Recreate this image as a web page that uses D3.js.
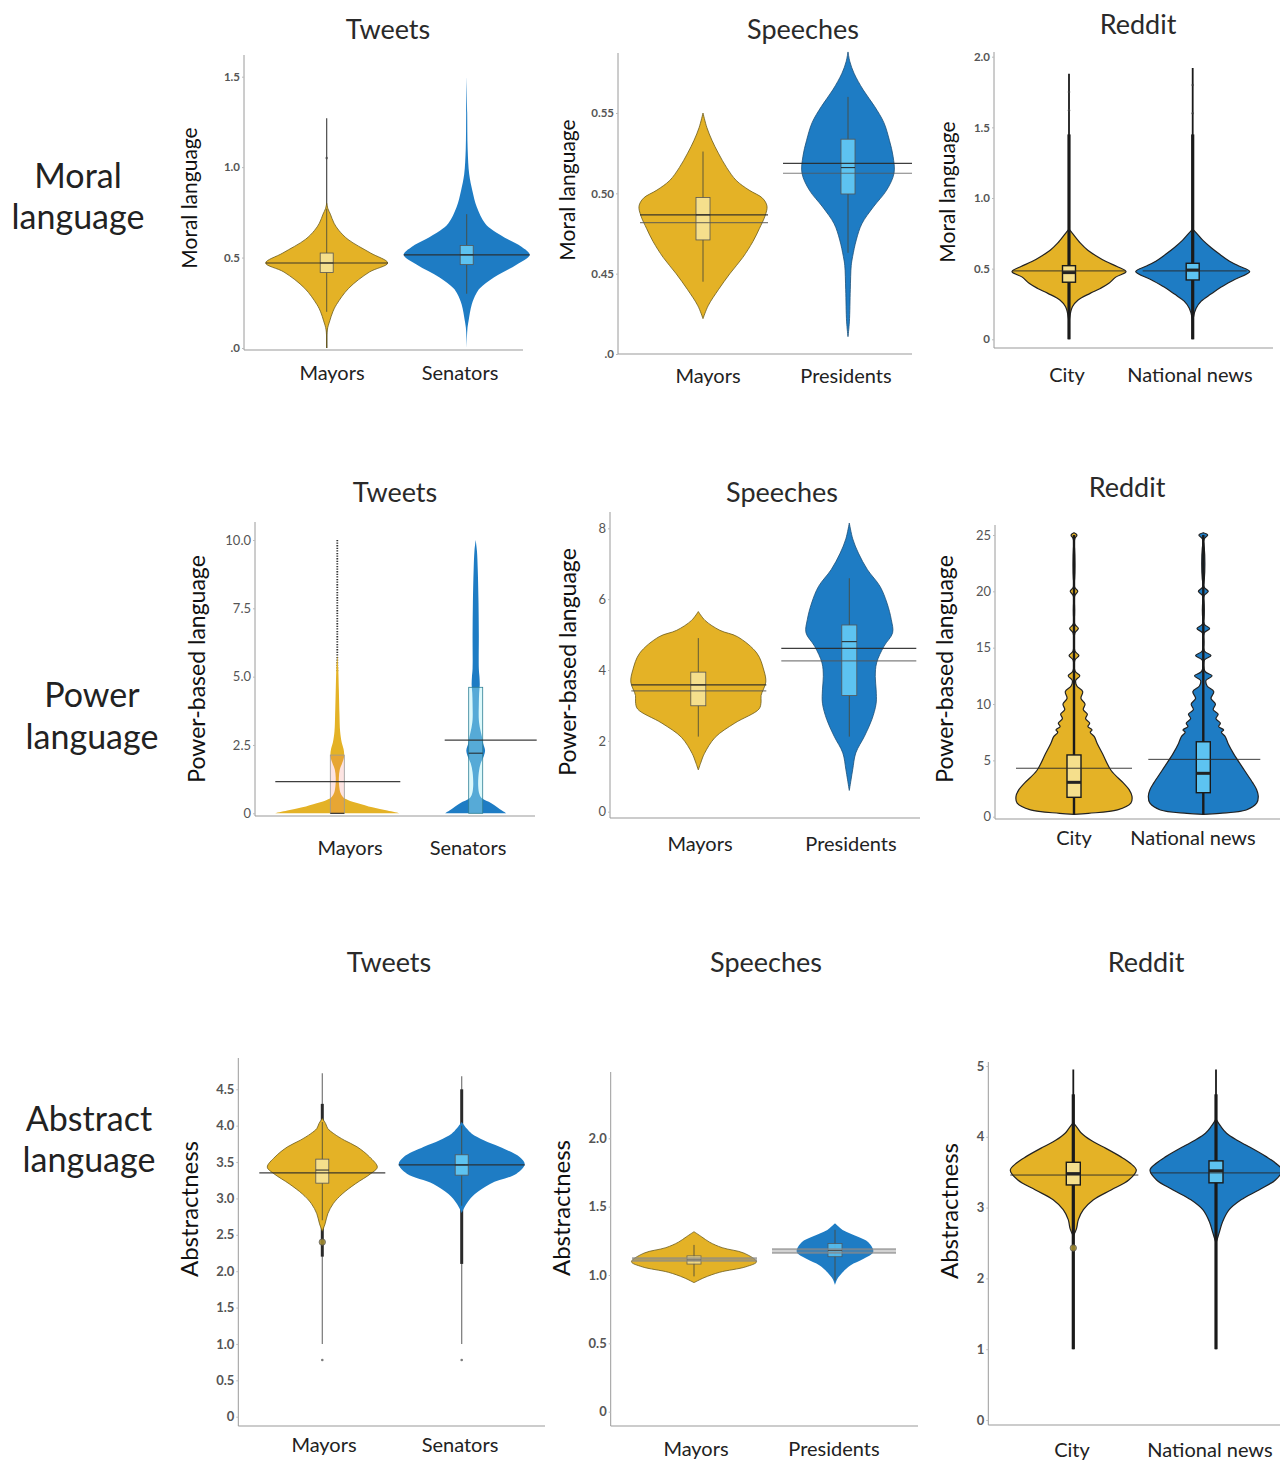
<!DOCTYPE html>
<html><head><meta charset="utf-8">
<script src="https://cdn.jsdelivr.net/npm/d3@7"></script>
<style>
body{margin:0;background:#fff;}
svg{display:block;font-family:Lato,"Open Sans",sans-serif;}
</style></head><body>
<svg id="chart" width="1280" height="1460"></svg>
<script>
// ---------------- DATA ----------------
const rowNames = [["Moral","language"],["Power","language"],["Abstract","language"]];
const sourceNames = ["Tweets","Speeches","Reddit"];
const groupNames = [["Mayors","Senators"],["Mayors","Presidents"],["City","National news"]];
const yAxisTitles = ["Moral language","Power-based language","Abstractness"];

const tickValues = [
  [0,0.5,1.0,1.5],[0.40,0.45,0.50,0.55],[0,0.5,1.0,1.5,2.0],
  [0,2.5,5,7.5,10],[0,2,4,6,8],[0,5,10,15,20,25],
  [0,0.5,1,1.5,2,2.5,3,3.5,4,4.5],[0,0.5,1,1.5,2],[0,1,2,3,4,5]
];
const tickLabels = [
  [".0","0.5","1.0","1.5"],[".0","0.45","0.50","0.55"],["0","0.5","1.0","1.5","2.0"],
  ["0","2.5","5.0","7.5","10.0"],["0","2","4","6","8"],["0","5","10","15","20","25"],
  ["0","0.5","1.0","1.5","2.0","2.5","3.0","3.5","4.0","4.5"],["0","0.5","1.0","1.5","2.0"],["0","1","2","3","4","5"]
];

// density profiles: [value, relative half-width]
const moralTweetsMayors = [[0,0],[0.1,0.01],[0.15,0.05],[0.2,0.1],[0.24,0.16],[0.33,0.36],[0.42,0.7],[0.47,1.0],[0.525,0.72],[0.6,0.35],[0.65,0.2],[0.69,0.12],[0.74,0.06],[0.77,0.02],[0.8,0]];
const moralTweetsSenators = [[0,0],[0.1,0.01],[0.15,0.03],[0.24,0.08],[0.3,0.15],[0.33,0.21],[0.39,0.43],[0.46,0.79],[0.515,1.0],[0.56,0.87],[0.6,0.66],[0.65,0.42],[0.69,0.29],[0.78,0.16],[0.87,0.09],[0.96,0.04],[1.1,0.015],[1.3,0.008],[1.5,0]];
const moralSpeechesMayors = [[0.422,0],[0.43,0.08],[0.44,0.24],[0.45,0.42],[0.46,0.62],[0.47,0.78],[0.478,0.88],[0.486,0.97],[0.492,1.0],[0.497,0.93],[0.502,0.72],[0.508,0.52],[0.516,0.37],[0.525,0.24],[0.533,0.14],[0.541,0.06],[0.55,0]];
const moralSpeechesPresidents = [[0.4108,0],[0.42,0.03],[0.44,0.05],[0.455,0.07],[0.4606,0.1],[0.471,0.18],[0.481,0.3],[0.4915,0.55],[0.502,0.84],[0.5125,1.0],[0.523,0.98],[0.533,0.9],[0.544,0.78],[0.554,0.58],[0.5644,0.33],[0.5748,0.13],[0.582,0.04],[0.588,0]];
const moralRedditCity = [[0.05,0],[0.15,0.01],[0.23,0.06],[0.278,0.16],[0.325,0.37],[0.36,0.55],[0.396,0.7],[0.44,0.82],[0.479,1.0],[0.514,0.85],[0.55,0.65],[0.585,0.5],[0.63,0.33],[0.68,0.2],[0.75,0.06],[0.78,0]];
const moralRedditNational = [[0.05,0],[0.15,0.01],[0.22,0.06],[0.27,0.15],[0.32,0.32],[0.37,0.5],[0.42,0.72],[0.479,1.0],[0.52,0.8],[0.56,0.62],[0.6,0.48],[0.65,0.32],[0.7,0.18],[0.75,0.07],[0.78,0]];
const powerTweetsMayors = [[0,1.0],[0.1,0.8],[0.22,0.56],[0.37,0.33],[0.49,0.17],[0.6,0.09],[0.75,0.05],[1.0,0.03],[1.3,0.025],[1.6,0.04],[1.85,0.08],[2.1,0.11],[2.35,0.1],[2.6,0.07],[3.0,0.045],[3.6,0.035],[4.5,0.025],[5.3,0.015],[5.8,0]];
const powerTweetsSenators = [[0,0.49],[0.1,0.42],[0.37,0.25],[0.55,0.1],[0.7,0.06],[1.0,0.04],[1.5,0.05],[1.83,0.08],[2.1,0.13],[2.3,0.15],[2.55,0.12],[2.8,0.1],[3.1,0.07],[3.42,0.05],[4.0,0.05],[4.4,0.055],[4.7,0.065],[5.0,0.06],[5.3,0.05],[6.5,0.05],[7.7,0.045],[8.9,0.033],[9.6,0.02],[10,0]];
const powerSpeechesMayors = [[1.18,0],[1.4,0.04],[1.64,0.09],[2.1,0.25],[2.5,0.54],[2.9,0.9],[3.1,0.93],[3.28,0.93],[3.66,1.0],[4.0,0.97],[4.47,0.87],[4.94,0.58],[5.12,0.32],[5.4,0.1],[5.65,0]];
const powerSpeechesPresidents = [[0.6,0],[0.9,0.04],[1.2,0.08],[1.66,0.15],[2.13,0.35],[2.6,0.52],[3.06,0.62],[3.44,0.62],[3.82,0.6],[4.2,0.63],[4.67,0.8],[5.05,1.0],[5.42,0.97],[5.89,0.87],[6.36,0.71],[6.83,0.42],[7.3,0.21],[7.7,0.08],[8.15,0]];
const powerRedditCity = [[0.2,0],[0.3,0.25],[0.6,0.75],[1.2,0.98],[1.8,1.0],[2.4,0.95],[3.0,0.85],[4.1,0.64],[5.6,0.49],[6.5,0.4],[7.1,0.35],[7.5,0.28],[7.7,0.31],[8.0,0.24],[8.3,0.27],[8.7,0.2],[9.1,0.23],[9.5,0.16],[10,0.19],[10.5,0.12],[11.1,0.15],[11.6,0.05],[12.1,0.03],[12.5,0.1],[12.9,0.02],[13.9,0.015],[14.3,0.085],[14.7,0.015],[16.3,0.015],[16.7,0.075],[17.1,0.012],[19.6,0.012],[20,0.065],[20.4,0.01],[24.6,0.01],[25,0.05],[25.2,0]];
const powerRedditNational = [[0.2,0],[0.3,0.3],[0.6,0.78],[1.2,0.97],[1.8,1.0],[2.4,0.97],[3.0,0.9],[4.1,0.75],[5.6,0.55],[6.5,0.45],[7.1,0.4],[7.5,0.33],[7.7,0.37],[8.0,0.28],[8.3,0.31],[8.7,0.23],[9.1,0.27],[9.5,0.18],[10,0.22],[10.5,0.14],[11.1,0.19],[11.6,0.07],[12.1,0.05],[12.5,0.16],[12.9,0.03],[13.9,0.02],[14.3,0.14],[14.7,0.02],[16.3,0.015],[16.7,0.115],[17.1,0.015],[19.6,0.012],[20,0.09],[20.4,0.01],[24.6,0.01],[25,0.08],[25.2,0]];
const absTweetsMayors = [[2.55,0],[2.65,0.05],[2.79,0.1],[2.93,0.2],[3.06,0.36],[3.2,0.6],[3.34,0.88],[3.43,1.0],[3.57,0.86],[3.71,0.63],[3.8,0.4],[3.89,0.21],[3.96,0.1],[4.03,0.06],[4.1,0]];
const absTweetsSenators = [[2.8,0],[2.93,0.08],[3.06,0.21],[3.2,0.45],[3.34,0.87],[3.47,1.0],[3.57,0.92],[3.71,0.6],[3.8,0.35],[3.89,0.16],[3.96,0.08],[4.05,0]];
const absSpeechesMayors = [[0.944,0],[0.98,0.16],[1.02,0.41],[1.06,0.83],[1.097,1.0],[1.16,0.8],[1.2,0.45],[1.24,0.25],[1.28,0.12],[1.317,0]];
const absSpeechesPresidents = [[0.927,0],[0.97,0.06],[1.02,0.2],[1.07,0.4],[1.12,0.76],[1.17,1.0],[1.24,0.87],[1.28,0.6],[1.33,0.2],[1.378,0]];
const absRedditCity = [[2.6,0],[2.7,0.05],[2.83,0.08],[2.97,0.16],[3.11,0.32],[3.25,0.6],[3.39,0.88],[3.53,1.0],[3.63,0.9],[3.72,0.75],[3.86,0.47],[3.95,0.28],[4.05,0.13],[4.12,0.07],[4.2,0]];
const absRedditNational = [[2.5,0],[2.65,0.05],[2.8,0.1],[2.97,0.2],[3.11,0.38],[3.25,0.65],[3.39,0.9],[3.53,1.0],[3.63,0.9],[3.72,0.76],[3.86,0.5],[3.95,0.32],[4.05,0.16],[4.15,0.07],[4.25,0]];

const densities = [
  [moralTweetsMayors,moralTweetsSenators],[moralSpeechesMayors,moralSpeechesPresidents],[moralRedditCity,moralRedditNational],
  [powerTweetsMayors,powerTweetsSenators],[powerSpeechesMayors,powerSpeechesPresidents],[powerRedditCity,powerRedditNational],
  [absTweetsMayors,absTweetsSenators],[absSpeechesMayors,absSpeechesPresidents],[absRedditCity,absRedditNational]
];
// box [q1, median, q3]
const boxStats = [
  [[0.417,0.47,0.525],[0.461,0.515,0.567]],[[0.471,0.4866,0.4974],[0.4996,0.516,0.5337]],[[0.404,0.472,0.521],[0.42,0.49,0.538]],
  [[0,0,2.13],[0,2.2,4.61]],[[2.99,3.58,3.94],[3.28,4.8,5.27]],[[1.72,3.05,5.48],[2.13,3.85,6.65]],
  [[3.21,3.39,3.54],[3.32,3.46,3.6]],[[1.08,1.11,1.14],[1.134,1.18,1.23]],[[3.32,3.48,3.64],[3.35,3.52,3.66]]
];
const whiskers = [
  [[0.2,0.77],[0.3,0.74]],[[0.445,0.526],[0.463,0.560]],[[0.2,0.75],[0.2,0.76]],
  [null,null],[[2.12,4.9],[2.12,6.59]],[null,null],
  [[2.7,4.05],[2.9,4.0]],[[0.99,1.22],[0.96,1.33]],[[2.7,4.2],[2.6,4.2]]
];
// horizontal reference lines (mean / median) per group
const refLines = [
  [[0.47],[0.515]],[[0.4866,0.4818],[0.5187,0.5125]],[[0.484],[0.484]],
  [[1.16],[2.68]],[[3.58,3.41],[4.61,4.26]],[[4.3],[5.09]],
  [[3.35],[3.46]],[[1.122,1.105],[1.188,1.163]],[[3.46],[3.49]]
];
// outlier tails [thinLo, thinHi, thickLo, thickHi]
const tails = [
  [[0,1.27,null,null],null],[null,null],[[0,1.88,0,1.45],[0,1.92,0,1.45]],
  [[5.2,10,null,null],null],[null,null],[[0.2,25,0.2,25],[0.2,25,0.2,25]],
  [[1.0,4.72,2.2,4.3],[1.0,4.68,2.1,4.5]],[null,null],[[1.0,4.95,1.0,4.6],[1.0,4.95,1.0,4.6]]
];
const outliers = [
  [[1.05],[]],[[],[]],[[1.75,1.62],[1.8,1.6]],
  [[],[]],[[],[]],[[],[]],
  [[2.4,0.78],[0.78]],[[],[]],[[2.43],[]]
];

// ---------------- LAYOUT / STYLE ----------------
const layout = [
  {ax:244,right:523,top:55,base:350,yr:[348,76.7],cx:[326.7,466.7],half:[61,63],bw:13,title:[388,39],yt:[197,198],cat:[332,460],catY:380,span:[[-61,61],[-63,63]],tickFs:11.5,ytFs:21,vs:["#6b5a1a","none"]},
  {ax:618,right:912,top:53,base:354,yr:[354,113],cx:[703,848],half:[64,46],bw:14,title:[803,39],yt:[575,190],cat:[708,846],catY:383,span:[[-63,65],[-65,64]],tickFs:11.5,ytFs:21,vs:["#6b5a1a","#1b4f78"]},
  {ax:994,right:1273,top:52,base:348,yr:[339.3,56.7],cx:[1069,1192.7],half:[57,57],bw:13,title:[1138,34],yt:[955,192],cat:[1067,1190],catY:382,span:[[-57,56],[-50,54]],tickFs:11.5,ytFs:21,vs:["#222","#222"],reddit:true},
  {ax:255,right:535,top:522,base:816,yr:[813.3,540],cx:[337.3,475.7],half:[62.5,62.5],bw:14,title:[395,502],yt:[205,669],cat:[350,468],catY:855,span:[[-62,63],[-31,61]],tickFs:13,ytFs:23,vs:["none","none"],transBox:true},
  {ax:610,right:920,top:512,base:818,yr:[811.7,528.3],cx:[698.3,849.3],half:[67.5,43.3],bw:15,title:[782,502],yt:[576,662],cat:[700,851],catY:851,span:[[-67,68],[-68,67]],tickFs:13,ytFs:23,vs:["#6b5a1a","#1b4f78"]},
  {ax:995,right:1280,top:525,base:819,yr:[816.7,535],cx:[1074,1203.3],half:[58,55],bw:14,title:[1127,497],yt:[953,669],cat:[1074,1193],catY:845,span:[[-58,58],[-55,57]],tickFs:13,ytFs:23,vs:["#222","#222"],reddit:true},
  {ax:238.3,right:545,top:1058,base:1426,yr:[1416.7,1089.3],cx:[322.3,461.7],half:[55,63],bw:13,title:[389,972],yt:[198,1209],cat:[324,460],catY:1452,span:[[-63,63],[-63,63]],tickFs:13,ytFs:24,vs:["#6b5a1a","none"],absT:true},
  {ax:610.7,right:918,top:1072,base:1426,yr:[1411.7,1138.3],cx:[694,835],half:[62.5,38.3],bw:14,title:[766,972],yt:[570,1208],cat:[696,834],catY:1456,span:[[-62,63],[-63,61]],tickFs:13,ytFs:24,vs:["#6b5a1a","none"],band:true},
  {ax:988.3,right:1280,top:1062,base:1425,yr:[1420,1066],cx:[1073.3,1216],half:[63,66],bw:14,title:[1146,972],yt:[958,1211],cat:[1072,1210],catY:1457,span:[[-63,65],[-66,66]],tickFs:13,ytFs:24,vs:["#222","#222"],reddit:true}
];
const rowLabelPos = [[78,174,215],[92,693,735],[89,1117,1158]];

const violinFill = ["#E4B226","#1E7CC4"];
const boxFill = ["#F5DF8C","#5DC3F1"];

// ---------------- DRAW ----------------
const svg = d3.select("#chart");

rowNames.forEach((lines,r)=>{
  const p = rowLabelPos[r];
  lines.forEach((t,k)=>{
    svg.append("text").attr("x",p[0]).attr("y",p[1+k]).attr("text-anchor","middle")
      .attr("dominant-baseline","central").attr("font-size",34).attr("fill","#222").text(t);
  });
});

layout.forEach((L,pi)=>{
  const row = Math.floor(pi/3), col = pi%3;
  const g = svg.append("g");
  const tv = tickValues[pi];
  const y = d3.scaleLinear().domain([tv[0],tv[tv.length-1]]).range(L.yr);
  const x = d3.scaleLinear().domain([0,1]).range(L.cx);

  g.append("text").attr("x",L.title[0]).attr("y",L.title[1]).attr("text-anchor","middle")
    .attr("font-size",27).attr("fill","#2a2a2a").text(sourceNames[col]);
  g.append("text").attr("transform",`translate(${L.yt[0]},${L.yt[1]}) rotate(-90)`)
    .attr("text-anchor","middle").attr("font-size",L.ytFs).attr("fill","#111").text(yAxisTitles[row]);

  g.append("line").attr("x1",L.ax).attr("x2",L.ax).attr("y1",L.top).attr("y2",L.base)
    .attr("stroke","#9a9a9a").attr("stroke-width",1);
  g.append("line").attr("x1",L.ax).attr("x2",L.right).attr("y1",L.base).attr("y2",L.base)
    .attr("stroke","#9a9a9a").attr("stroke-width",1.2);

  const yAxis = d3.axisLeft(y).tickValues(tv).tickFormat((d,i)=>tickLabels[pi][i]).tickSize(2).tickPadding(2);
  const ag = g.append("g").attr("transform",`translate(${L.ax},0)`).call(yAxis);
  ag.select(".domain").remove();
  ag.selectAll(".tick line").attr("stroke","#bbb");
  ag.selectAll(".tick text").attr("font-family","Lato, sans-serif").attr("font-size",L.tickFs)
    .attr("fill","#555").attr("font-weight",(row===1)?400:700);

  groupNames[col].forEach((t,i)=>{
    g.append("text").attr("x",L.cat[i]).attr("y",L.catY).attr("text-anchor","middle")
      .attr("font-size",20).attr("fill","#222").text(t);
  });

  [0,1].forEach(i=>{
    const cx = x(i), half = L.half[i];
    const dens = densities[pi][i];
    const area = d3.area()
      .y(d=>y(d[0]))
      .x0(d=>cx - d[1]*half)
      .x1(d=>cx + d[1]*half)
      .curve(d3.curveCatmullRom.alpha(0.5));
    const vg = g.append("g");
    const tl = tails[pi][i];
    const tailColor = L.reddit ? "#1a1a1a" : "#3a3a3a";
    if(tl){
      const th = vg.append("line").attr("x1",cx).attr("x2",cx).attr("y1",y(tl[0])).attr("y2",y(tl[1]))
        .attr("stroke",tailColor).attr("stroke-width",L.reddit?1.8:1.1);
      if(pi===3) th.attr("stroke-dasharray","1.3,1.3").attr("stroke-width",1.8).attr("stroke","#333");
      if(L.absT) th.attr("stroke","#777").attr("stroke-width",1.2);
      // thick part drawn beneath violin for tweets
      if(L.absT && tl[2]!==null){
        vg.append("line").attr("x1",cx).attr("x2",cx).attr("y1",y(tl[2])).attr("y2",y(tl[3]))
          .attr("stroke","#2a2a2a").attr("stroke-width",3);
      }
    }
    vg.append("path").attr("d",area(dens)).attr("fill",violinFill[i])
      .attr("stroke",L.vs[i]).attr("stroke-width",L.reddit?1.2:0.8);
    if(tl && tl[2]!==null && !L.absT){
      vg.append("line").attr("x1",cx).attr("x2",cx).attr("y1",y(tl[2])).attr("y2",y(tl[3]))
        .attr("stroke",tailColor).attr("stroke-width",pi===5?2.4:3.2);
    }
    outliers[pi][i].forEach(v=>{
      const big = (pi===6||pi===8) && v>2;
      vg.append("circle").attr("cx",cx).attr("cy",y(v)).attr("r",big?3.2:1.3)
        .attr("fill",big?"#a08a30":"#444").attr("stroke",big?"#555":"none").attr("stroke-width",0.8)
        .attr("opacity",big?0.9:0.7);
    });
    const wk = whiskers[pi][i];
    if(wk){
      vg.append("line").attr("x1",cx).attr("x2",cx).attr("y1",y(wk[0])).attr("y2",y(wk[1]))
        .attr("stroke",L.reddit?"#1a1a1a":"#4a4a3a").attr("stroke-width",L.reddit?1.6:1).attr("opacity",0.85);
    }
    const b = boxStats[pi][i];
    const bw = L.bw;
    const rect = vg.append("rect").attr("x",cx-bw/2).attr("width",bw)
      .attr("y",y(b[2])).attr("height",y(b[0])-y(b[2]));
    if(L.transBox){
      rect.attr("fill",i===0?"rgba(245,120,110,0.2)":"rgba(170,240,245,0.4)")
        .attr("stroke",i===0?"#999":"#2e7f95").attr("stroke-width",0.8);
    } else {
      rect.attr("fill",boxFill[i]).attr("stroke",L.reddit?"#1a1a1a":"#555")
        .attr("stroke-width",L.reddit?1.4:0.8).attr("opacity",L.band?0.85:1);
    }
    vg.append("line").attr("x1",cx-bw/2).attr("x2",cx+bw/2).attr("y1",y(b[1])).attr("y2",y(b[1]))
      .attr("stroke","#222").attr("stroke-width",L.reddit?3:1);
    refLines[pi][i].forEach((v,k)=>{
      const ln = vg.append("line").attr("x1",cx+L.span[i][0]).attr("x2",cx+L.span[i][1])
        .attr("y1",y(v)).attr("y2",y(v));
      if(L.band){
        ln.attr("stroke","#8a8a8a").attr("stroke-width",2.2).attr("opacity",0.75);
      } else {
        ln.attr("stroke",k===0?"#2a2a2a":"#555").attr("stroke-width",L.reddit?1:1.2)
          .attr("opacity",k===0?0.9:0.75);
      }
    });
  });
});
</script></body></html>
